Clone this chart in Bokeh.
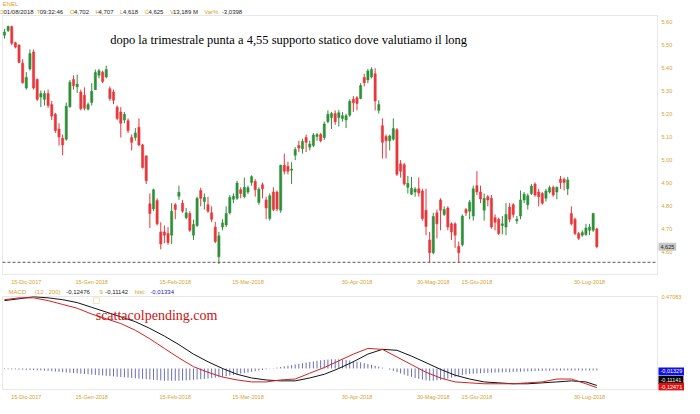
import numpy as np
from bokeh.plotting import figure
from bokeh.models import (Range1d, FixedTicker, Label, ColumnDataSource, BoxAnnotation)
from bokeh.layouts import column
from bokeh.embed import file_html
from bokeh.resources import INLINE
from bokeh.core.properties import value

# ---------------- data ----------------
opens = [5.543,5.564,5.581,5.511,5.501,5.422,5.314,5.397,5.471,5.351,
         5.275,5.265,5.290,5.242,5.200,5.136,5.096,5.092,5.233,5.351,
         5.319,5.297,5.283,5.222,5.251,5.307,5.369,5.383,5.362,5.311,
         5.297,5.231,5.210,5.175,5.172,5.099,5.099,5.144,5.067,5.019,
         4.811,4.789,4.825,4.689,4.689,4.682,4.675,4.807,4.844,4.814,
         4.751,4.769,4.675,4.717,4.869,4.821,4.807,4.772,4.710,4.581,
         4.710,4.719,4.772,4.831,4.835,4.872,4.842,4.862,4.904,4.908,
         4.817,4.894,4.828,4.747,4.862,4.862,4.783,4.978,4.974,4.957,
         5.022,5.064,5.050,5.099,5.057,5.064,5.103,5.112,5.099,5.168,
         5.186,5.203,5.186,5.182,5.175,5.196,5.265,5.272,5.269,5.360,
         5.349,5.362,5.376,5.217,5.150,5.103,5.085,5.092,5.133,4.985,
         4.981,4.883,4.853,4.862,4.876,4.867,4.783,4.654,4.599,4.772,
         4.828,4.765,4.793,4.724,4.724,4.626,4.633,4.786,4.779,4.758,
         4.890,4.862,4.783,4.842,4.835,4.751,4.744,4.717,4.710,4.797,
         4.807,4.737,4.758,4.828,4.807,4.856,4.897,4.862,4.856,4.835,
         4.862,4.883,4.862,4.918,4.918,4.876,4.769,4.744,4.682,4.675,
         4.678,4.696,4.696,4.702]
closes = [5.557,5.581,5.508,5.492,5.425,5.337,5.360,5.464,5.314,5.265,
          5.290,5.290,5.238,5.192,5.129,5.101,5.067,5.235,5.339,5.324,
          5.331,5.224,5.226,5.242,5.300,5.381,5.389,5.342,5.394,5.268,
          5.261,5.182,5.161,5.200,5.129,5.078,5.119,5.067,4.969,4.911,
          4.769,4.872,4.724,4.636,4.675,4.643,4.779,4.786,4.861,4.779,
          4.772,4.696,4.721,4.835,4.835,4.839,4.779,4.744,4.647,4.672,
          4.728,4.769,4.839,4.844,4.901,4.856,4.883,4.881,4.929,4.872,
          4.874,4.876,4.793,4.846,4.786,4.789,4.978,4.953,4.953,4.962,
          5.047,5.053,5.082,5.078,5.071,5.110,5.112,5.085,5.158,5.200,
          5.203,5.168,5.207,5.194,5.194,5.256,5.250,5.247,5.325,5.337,
          5.388,5.394,5.258,5.242,5.078,5.085,5.106,5.138,4.939,4.953,
          4.897,4.900,4.879,4.875,4.858,4.747,4.713,4.599,4.756,4.724,
          4.783,4.786,4.710,4.689,4.675,4.599,4.758,4.772,4.818,4.876,
          4.862,4.832,4.835,4.828,4.710,4.731,4.682,4.724,4.765,4.744,
          4.765,4.744,4.828,4.853,4.846,4.888,4.849,4.842,4.814,4.867,
          4.881,4.849,4.883,4.904,4.904,4.915,4.724,4.682,4.661,4.686,
          4.706,4.710,4.769,4.625]
highs = [5.571,5.585,5.585,5.515,5.503,5.439,5.383,5.481,5.481,5.356,
         5.303,5.303,5.307,5.258,5.206,5.161,5.112,5.251,5.349,5.369,
         5.372,5.307,5.317,5.251,5.335,5.394,5.397,5.390,5.411,5.321,
         5.307,5.238,5.231,5.210,5.182,5.112,5.140,5.182,5.071,5.022,
         4.856,4.876,4.835,4.731,4.717,4.710,4.814,4.814,4.890,4.828,
         4.793,4.779,4.742,4.842,4.881,4.856,4.842,4.800,4.733,4.689,
         4.744,4.800,4.849,4.856,4.911,4.883,4.925,4.890,4.935,4.918,
         4.883,4.904,4.842,4.856,4.883,4.869,4.981,5.029,4.994,4.992,
         5.057,5.085,5.094,5.112,5.085,5.119,5.119,5.119,5.168,5.217,
         5.210,5.217,5.219,5.210,5.203,5.265,5.279,5.279,5.335,5.376,
         5.397,5.404,5.400,5.261,5.182,5.112,5.112,5.182,5.140,5.001,
         4.988,4.932,4.928,4.883,4.925,4.876,4.876,4.689,4.772,4.786,
         4.835,4.800,4.800,4.731,4.731,4.647,4.765,4.793,4.828,4.890,
         4.953,4.890,4.856,4.849,4.849,4.765,4.751,4.758,4.814,4.814,
         4.814,4.758,4.869,4.862,4.856,4.897,4.904,4.876,4.862,4.876,
         4.890,4.890,4.886,4.932,4.925,4.928,4.800,4.751,4.689,4.696,
         4.724,4.724,4.772,4.707]
lows = [5.529,5.557,5.501,5.486,5.422,5.333,5.307,5.390,5.307,5.258,
        5.231,5.238,5.228,5.175,5.119,5.064,5.022,5.085,5.228,5.307,
        5.293,5.217,5.217,5.217,5.238,5.306,5.356,5.335,5.356,5.258,
        5.244,5.175,5.099,5.161,5.119,5.043,5.085,5.061,4.964,4.897,
        4.706,4.779,4.717,4.613,4.640,4.633,4.636,4.744,4.828,4.772,
        4.744,4.689,4.654,4.710,4.800,4.786,4.772,4.731,4.640,4.550,
        4.696,4.710,4.765,4.814,4.828,4.835,4.835,4.853,4.890,4.842,
        4.807,4.835,4.744,4.738,4.779,4.779,4.772,4.939,4.939,4.897,
        5.001,5.036,5.029,5.036,5.043,5.057,5.085,5.078,5.089,5.161,
        5.136,5.154,5.147,5.168,5.140,5.189,5.210,5.217,5.265,5.321,
        5.335,5.356,5.217,5.203,5.008,5.008,5.043,5.085,4.932,4.925,
        4.890,4.856,4.849,4.842,4.842,4.738,4.675,4.557,4.592,4.661,
        4.696,4.758,4.696,4.654,4.620,4.557,4.626,4.758,4.744,4.738,
        4.849,4.814,4.738,4.800,4.703,4.696,4.675,4.678,4.675,4.731,
        4.751,4.724,4.744,4.814,4.786,4.849,4.842,4.800,4.807,4.821,
        4.856,4.842,4.831,4.876,4.869,4.849,4.717,4.675,4.654,4.668,
        4.672,4.675,4.689,4.618]

# MACD (red) and signal (black) read every 4 sessions
macd_idx = [0,4,8,12,16,20,24,28,32,36,40,44,48,52,56,60,64,68,72,76,80,
            84,88,92,96,100,104,108,112,116,120,124,128,132,136,140,144,148,152,156,160,163]
macd_line = [0.450,0.462,0.462,0.444,0.419,0.394,0.356,0.325,0.294,0.250,0.194,
             0.131,0.069,0.012,-0.025,-0.056,-0.075,-0.088,-0.088,-0.075,-0.069,
             -0.031,0.006,0.050,0.094,0.131,0.125,0.075,0.025,-0.025,-0.062,
             -0.088,-0.094,-0.100,-0.100,-0.100,-0.094,-0.088,-0.069,-0.069,-0.100,-0.125]
signal_line = [0.444,0.456,0.469,0.462,0.450,0.431,0.400,0.369,0.338,0.306,0.262,
               0.212,0.156,0.094,0.044,0.000,-0.038,-0.062,-0.075,-0.081,-0.081,
               -0.062,-0.038,0.000,0.044,0.094,0.125,0.119,0.081,0.038,-0.006,
               -0.044,-0.069,-0.088,-0.094,-0.100,-0.100,-0.094,-0.088,-0.081,-0.088,-0.111]
hist = [-0.004,-0.005,-0.006,-0.006,-0.007,-0.008,-0.009,-0.010,-0.011,-0.012,
        -0.013,-0.014,-0.016,-0.018,-0.020,-0.022,-0.024,-0.026,-0.028,-0.030,
        -0.032,-0.034,-0.036,-0.038,-0.040,-0.042,-0.044,-0.046,-0.048,-0.050,
        -0.052,-0.054,-0.056,-0.058,-0.060,-0.062,-0.064,-0.066,-0.068,-0.070,
        -0.072,-0.074,-0.076,-0.078,-0.080,-0.080,-0.080,-0.080,-0.080,-0.079,
        -0.078,-0.076,-0.074,-0.072,-0.070,-0.068,-0.066,-0.063,-0.060,-0.057,
        -0.054,-0.050,-0.046,-0.042,-0.038,-0.034,-0.030,-0.026,-0.022,-0.018,
        -0.014,-0.010,-0.006,-0.002,0.002,0.006,0.010,0.014,0.018,0.022,
        0.026,0.030,0.034,0.038,0.042,0.046,0.050,0.054,0.056,0.058,
        0.060,0.060,0.060,0.058,0.056,0.052,0.048,0.044,0.040,0.035,
        0.030,0.024,0.018,0.012,0.006,0.000,-0.008,-0.016,-0.024,-0.032,
        -0.040,-0.048,-0.055,-0.062,-0.068,-0.073,-0.077,-0.080,-0.080,-0.078,
        -0.075,-0.071,-0.066,-0.060,-0.054,-0.048,-0.043,-0.039,-0.036,-0.034,
        -0.032,-0.031,-0.030,-0.029,-0.028,-0.027,-0.026,-0.025,-0.024,-0.024,
        -0.023,-0.022,-0.021,-0.020,-0.019,-0.018,-0.017,-0.016,-0.016,-0.015,
        -0.015,-0.014,-0.014,-0.014,-0.013,-0.013,-0.013,-0.013,-0.013,-0.013,
        -0.013,-0.013,-0.013,-0.013]

tick_idx = [6, 24, 47, 67, 97, 118, 130, 161]
tick_lab = ["15-Dic-2017", "15-Gen-2018", "15-Feb-2018", "15-Mar-2018",
            "30-Apr-2018", "30-Mag-2018", "15-Giu-2018", "30-Lug-2018"]
price_ticks = [4.6, 4.7, 4.8, 4.9, 5.0, 5.1, 5.2, 5.3, 5.4, 5.5, 5.6]
SUPPORT = 4.557

# ---------------- layout / styling ----------------
ORANGE = "#d6a22c"
GREEN = "#2f8f3a"
RED = "#e8373a"
GRAY = "#b4b4b4"
DARK = "#222222"
SANS = "Liberation Sans"
SERIF = "Liberation Serif"

W = 684
X_LO, X_HI = -0.55, 179.7          # plotting box (data units)
PPX = 655 / (X_HI - X_LO)           # px per session
XS = X_LO - 2 / PPX
XE = XS + W / PPX
LAB_X = X_HI + 4 / PPX              # right-hand label column

idx = np.arange(len(opens))
o = np.array(opens); c = np.array(closes); h = np.array(highs); l = np.array(lows)
up = c >= o
src_up = ColumnDataSource(dict(x=idx[up], o=o[up], c=c[up], h=h[up], l=l[up]))
src_dn = ColumnDataSource(dict(x=idx[~up], o=o[~up], c=c[~up], h=h[~up], l=l[~up]))


def base_fig(box_h, y_bot, y_top, head_px):
    ppy = box_h / (y_top - y_bot)
    ys = y_bot - 1 / ppy
    ye = y_top + head_px / ppy
    f = figure(frame_width=W, frame_height=box_h + head_px + 1,
               x_range=Range1d(XS, XE), y_range=Range1d(ys, ye),
               output_backend="svg", toolbar_location=None, y_axis_location=None,
               min_border_left=0, min_border_right=0, min_border_top=0,
               min_border_bottom=0, background_fill_color="white",
               border_fill_color="white")
    f.xgrid.visible = False
    f.ygrid.visible = False
    f.outline_line_color = None
    ax = f.xaxis[0]
    ax.ticker = FixedTicker(ticks=tick_idx)
    ax.major_label_overrides = {i: t for i, t in zip(tick_idx, tick_lab)}
    ax.axis_line_color = None
    ax.major_tick_line_color = None
    ax.minor_tick_line_color = None
    ax.major_tick_out = 0
    ax.major_tick_in = 0
    ax.major_label_standoff = 3
    ax.major_label_text_color = ORANGE
    ax.major_label_text_font = SANS
    ax.major_label_text_font_size = "5.5px"
    f.add_layout(BoxAnnotation(left=X_LO, right=X_HI, bottom=y_bot, top=y_top,
                               fill_alpha=0, line_color=GRAY, line_width=1))
    return f, ppy


def hdr_text(f, xs_px, texts, colors, y):
    src = ColumnDataSource(dict(x=[(v - 4) / 3.712 for v in xs_px], y=[y] * len(texts),
                                t=texts, col=colors))
    f.text(x="x", y="y", text="t", text_color="col", source=src,
           text_font=value(SANS), text_font_size=value("6px"), text_baseline="middle")


# ---------------- price panel ----------------
P_BOT, P_TOP = 4.504, 5.629
p1, ppy1 = base_fig(259, P_BOT, P_TOP, 15)

p1.segment(x0="x", y0="l", x1="x", y1="h", source=src_up, color=GREEN, line_width=1)
p1.segment(x0="x", y0="l", x1="x", y1="h", source=src_dn, color=RED, line_width=1)
p1.vbar(x="x", bottom="o", top="c", width=0.62, source=src_up, fill_color=GREEN,
        line_color=GREEN, line_width=0.5)
p1.vbar(x="x", bottom="c", top="o", width=0.62, source=src_dn, fill_color=RED,
        line_color=RED, line_width=0.5)

# support level
p1.segment(x0=[X_LO], y0=[SUPPORT], x1=[X_HI], y1=[SUPPORT], line_color="#555555",
           line_dash="3 2", line_width=1)

# right price scale
p1.text(x=[LAB_X] * len(price_ticks), y=price_ticks, text=[f"{t:.2f}" for t in price_ticks],
        text_color=ORANGE, text_font=value(SANS), text_font_size=value("5.5px"),
        text_baseline="middle")
p1.add_layout(Label(x=X_HI, y=closes[-1], text="4,625", x_offset=1, text_font=SANS,
                    text_font_size="5.5px", text_color=DARK, text_baseline="middle",
                    background_fill_color="#c8c8c8", padding=2))

p1.add_layout(Label(x=29.1, y=5.521,
                    text="dopo la trimestrale punta a 4,55 supporto statico dove valutiamo il long",
                    text_font=SERIF, text_font_size="12.5px", text_color="black",
                    text_baseline="alphabetic"))

# header
hdr_text(p1, [2], ["ENEL"], [ORANGE], P_TOP + 11.5 / ppy1)
hdr_text(p1, [-1, 3, 37, 40, 71, 75, 97, 100, 122, 125, 147, 151, 173, 176, 208, 226],
         ["D", "01/08/2018", "T", "09:32:46", "O", "4,702", "H", "4,707", "L", "4,618",
          "C", "4,625", "V", "13,189 M", "Var%", "-3,0398"],
         [ORANGE, DARK] * 8, P_TOP + 3.8 / ppy1)

# ---------------- MACD panel ----------------
M_BOT, M_TOP = -0.1375, 0.47083
p2, ppy2 = base_fig(93, M_BOT, M_TOP, 9)
p2.segment(x0=idx, y0=np.zeros(len(hist)), x1=idx, y1=hist, color="#4d55a8",
           line_width=1, alpha=0.85)
p2.line(macd_idx, signal_line, color="#111111", line_width=1)
p2.line(macd_idx, macd_line, color="#d42020", line_width=1)

p2.text(x=[LAB_X], y=[M_TOP], text=["0.47083"], text_color=ORANGE, text_font=value(SANS),
        text_font_size=value("5.5px"), text_baseline="middle")
for yv, txt, bg in [(-0.019, "-0,01329", "#1010e0"), (-0.075, "-0,11141", "#000000"),
                    (-0.119, "-0,12471", "#e01010")]:
    p2.add_layout(Label(x=X_HI, y=yv, text=txt, x_offset=1, text_font=SANS,
                        text_font_size="5.5px", text_color="white", text_baseline="middle",
                        background_fill_color=bg, padding=2))

hdr_text(p2, [8, 35, 67, 101, 107, 137, 153],
         ["MACD", "(12 , 200)", "-0,12476", "9", "-0,11142", "hist:", "-0,01334"],
         [ORANGE, ORANGE, DARK, ORANGE, DARK, ORANGE, "#2020c0"], M_TOP + 4.5 / ppy2)
p2.add_layout(BoxAnnotation(left=24.5, right=26.1, bottom=0.425, top=0.4625,
                            fill_alpha=0, line_color=ORANGE, line_width=1))
p2.add_layout(Label(x=25.1, y=0.344, text="scattacolpending.com", text_font=SERIF,
                    text_font_size="14px", text_color="#cc1111", text_baseline="alphabetic"))

layout = column(p1, p2, spacing=0)
open("out.html", "w").write(file_html(layout, INLINE))
